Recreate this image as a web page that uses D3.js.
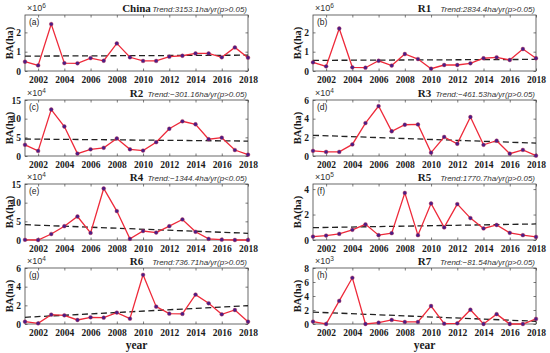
<!DOCTYPE html>
<html>
<head>
<meta charset="utf-8">
<title>Burned area by region</title>
<script src="https://d3js.org/d3.v7.min.js"></script>
<style>
  body { margin: 0; background: #fff; }
  text { fill: #1a1a1a; }
  .tick-lbl { font-family: "Liberation Serif", "Times New Roman", serif; font-weight: bold; font-size: 9.5px; }
  .title { font-family: "Liberation Serif", serif; font-weight: bold; font-size: 11px; }
  .trend { font-family: "Liberation Sans", Arial, sans-serif; font-style: italic; font-size: 8px; fill: #333; }
  .ylab { font-family: "Liberation Serif", serif; font-weight: bold; font-size: 10.5px; }
  .xlab { font-family: "Liberation Serif", serif; font-weight: bold; font-size: 11.5px; }
  .exp { font-family: "Liberation Sans", Arial, sans-serif; font-size: 9px; fill: #333; }
  .tag { font-family: "Liberation Sans", Arial, sans-serif; font-size: 8.5px; fill: #222; }
</style>
</head>
<body>
<div id="chart"></div>
<script>
// years on the x axis
var years = d3.range(2001, 2019);
var xTicks = [2002, 2004, 2006, 2008, 2010, 2012, 2014, 2016, 2018];

// burned area per region (in units of 10^exp ha)
var china = [0.48, 0.29, 2.43, 0.41, 0.40, 0.67, 0.53, 1.43, 0.71, 0.52, 0.52, 0.74, 0.79, 0.91, 0.91, 0.71, 1.22, 0.69];
var r1 = [0.45, 0.24, 2.20, 0.19, 0.17, 0.53, 0.28, 0.88, 0.62, 0.12, 0.31, 0.31, 0.40, 0.66, 0.71, 0.57, 1.14, 0.66];
var r2 = [3.0, 1.36, 12.45, 7.9, 0.64, 1.8, 2.2, 4.7, 1.8, 1.45, 3.7, 7.3, 9.3, 8.5, 4.5, 4.9, 1.6, 0.36];
var r3 = [0.55, 0.44, 0.44, 1.24, 3.53, 5.35, 2.65, 3.35, 3.38, 0.36, 2.04, 1.31, 4.18, 1.2, 1.64, 0.25, 0.65, 0.04];
var r4 = [0.05, 0.0, 1.6, 3.7, 6.3, 1.9, 13.8, 7.75, 0.3, 2.4, 2.0, 3.7, 5.5, 2.2, 0.3, 0.1, 0.0, 0.0];
var r5 = [0.27, 0.35, 0.48, 0.8, 1.23, 0.38, 0.54, 3.7, 0.38, 2.87, 0.99, 2.82, 1.72, 0.91, 1.18, 0.56, 0.38, 0.24];
var r6 = [0.25, 0.07, 1.0, 0.93, 0.43, 0.72, 0.68, 1.22, 0.57, 5.27, 1.86, 1.11, 1.08, 3.15, 2.22, 1.04, 1.5, 0.25];
var r7 = [0.34, 0.0, 3.3, 6.6, 0.0, 0.19, 0.58, 0.29, 0.29, 2.57, 0.05, 0.1, 2.04, 0.0, 1.41, 0.0, 0.0, 0.73];

// panel descriptors
var names = ["China", "R1", "R2", "R3", "R4", "R5", "R6", "R7"];
var tags = ["(a)", "(b)", "(c)", "(d)", "(e)", "(f)", "(g)", "(h)"];
var series = [china, r1, r2, r3, r4, r5, r6, r7];
var exponents = [6, 6, 4, 4, 4, 5, 4, 3];
var yMax = [2.9, 2.9, 15, 6, 15, 4.4, 6, 8];
var yTicks = [[0, 1, 2], [0, 1, 2], [0, 5, 10, 15], [0, 2, 4, 6], [0, 5, 10, 15], [0, 2, 4], [0, 2, 4, 6], [0, 2, 4, 6, 8]];
// trend line value at 2001 and 2018
var trendStart = [0.77, 0.55, 4.55, 2.22, 4.1, 0.97, 0.72, 1.7];
var trendEnd = [0.82, 0.60, 4.0, 1.38, 1.8, 1.26, 1.97, 0.39];
var trendText = [
  "Trend:3153.1ha/yr(p>0.05)",
  "Trend:2834.4ha/yr(p>0.05)",
  "Trend:\u2212301.16ha/yr(p>0.05)",
  "Trend:\u2212461.53ha/yr(p>0.05)",
  "Trend:\u22121344.4ha/yr(p<0.05)",
  "Trend:1770.7ha/yr(p>0.05)",
  "Trend:736.71ha/yr(p>0.05)",
  "Trend:\u221281.54ha/yr(p>0.05)"
];

var W = 550, H = 353;
var colX = [25, 313], colW = 223;
var rowY = [15, 100, 184, 268], rowH = 56;

var svg = d3.select("#chart").append("svg")
  .attr("width", W).attr("height", H);

series.forEach(function(vals, i) {
  var col = i % 2, row = Math.floor(i / 2);
  var g = svg.append("g")
    .attr("transform", "translate(" + colX[col] + "," + rowY[row] + ")");

  var x = d3.scaleLinear().domain([2001, 2018]).range([0, colW]);
  var y = d3.scaleLinear().domain([0, yMax[i]]).range([rowH, 0]);

  // axes with inward ticks
  var bottom = g.append("g").attr("transform", "translate(0," + rowH + ")")
    .call(d3.axisBottom(x).tickValues(xTicks).tickFormat(d3.format("d")).tickSizeInner(-2.5).tickSizeOuter(0).tickPadding(5));
  var left = g.append("g")
    .call(d3.axisLeft(y).tickValues(yTicks[i]).tickFormat(d3.format("d")).tickSizeInner(-2.5).tickSizeOuter(0).tickPadding(4));
  g.append("g").attr("transform", "translate(" + colW + ",0)")
    .call(d3.axisRight(y).tickValues(yTicks[i]).tickFormat("").tickSizeInner(-2.5).tickSizeOuter(0));
  g.append("g")
    .call(d3.axisTop(x).tickValues(xTicks).tickFormat("").tickSizeInner(-2.5).tickSizeOuter(0));

  g.selectAll(".domain").remove();
  g.selectAll(".tick line").attr("stroke", "#444").attr("stroke-width", 0.7);
  bottom.selectAll("text").attr("class", "tick-lbl");
  left.selectAll("text").attr("class", "tick-lbl");

  // box
  g.append("rect")
    .attr("width", colW).attr("height", rowH)
    .attr("fill", "none").attr("stroke", "#444").attr("stroke-width", 0.8);

  // trend line
  g.append("line")
    .attr("x1", x(2001)).attr("y1", y(trendStart[i]))
    .attr("x2", x(2018)).attr("y2", y(trendEnd[i]))
    .attr("stroke", "#222").attr("stroke-width", 1.3)
    .attr("stroke-dasharray", "6,3.5");

  // data line
  var line = d3.line()
    .x(function(d, k) { return x(years[k]); })
    .y(function(d) { return y(d); });
  g.append("path").datum(vals)
    .attr("d", line)
    .attr("fill", "none").attr("stroke", "#ee2a3a").attr("stroke-width", 1.3);

  g.selectAll(".pt").data(vals).enter().append("circle")
    .attr("cx", function(d, k) { return x(years[k]); })
    .attr("cy", function(d) { return y(d); })
    .attr("r", 1.9)
    .attr("fill", "#4a1d86").attr("stroke", "#c0284a").attr("stroke-width", 0.4);

  // titles and labels
  g.append("text").attr("class", "title")
    .attr("x", colW / 2).attr("y", -3.5).attr("text-anchor", "middle")
    .text(names[i]);
  g.append("text").attr("class", "trend")
    .attr("x", colW - 1).attr("y", -3).attr("text-anchor", "end")
    .text(trendText[i]);
  var ex = g.append("text").attr("class", "exp").attr("x", 2).attr("y", -4);
  ex.append("tspan").text("\u00d710");
  ex.append("tspan").attr("dy", -3.5).attr("font-size", "6.5px").text(exponents[i]);
  g.append("text").attr("class", "tag")
    .attr("x", 4).attr("y", 10)
    .text(tags[i]);
  g.append("text").attr("class", "ylab")
    .attr("transform", "translate(" + (-12.5) + "," + (rowH / 2) + ") rotate(-90)")
    .attr("text-anchor", "middle")
    .text("BA(ha)");

  if (row === 3) {
    g.append("text").attr("class", "xlab")
      .attr("x", colW / 2).attr("y", rowH + 25).attr("text-anchor", "middle")
      .text("year");
  }
});
</script>
</body>
</html>
